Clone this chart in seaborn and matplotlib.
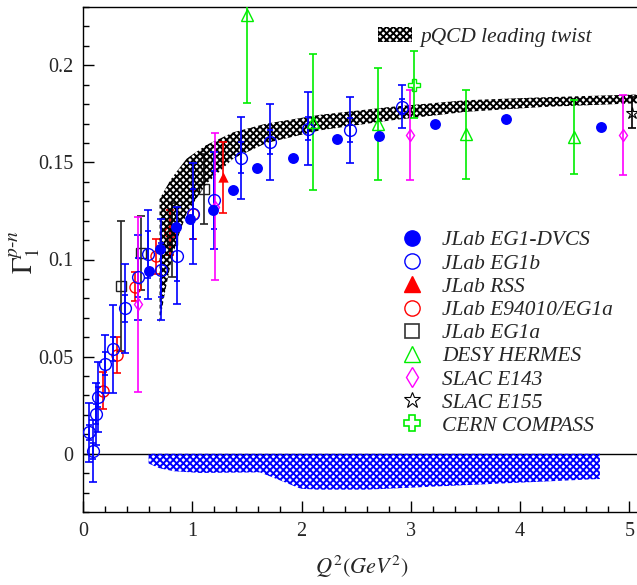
import matplotlib
matplotlib.use("Agg")
import matplotlib.pyplot as plt
import seaborn as sns
from matplotlib.lines import Line2D
from matplotlib.patches import Patch

# ------------------------------
# DATA
# ------------------------------
dvcs_q2 = [0.60, 0.70, 0.85, 0.98, 1.19, 1.37, 1.59, 1.92, 2.32, 2.71, 3.22, 3.87, 4.74]
dvcs_g = [0.094, 0.1055, 0.1165, 0.121, 0.1255, 0.1357, 0.147, 0.1523, 0.162, 0.1636, 0.1696, 0.1722, 0.1682]

# systematic band of EG1-DVCS (lower edge, upper edge sits on zero)
sys_q2 = [0.60, 0.70, 0.83, 1.07, 1.62, 1.86, 1.99, 2.14, 2.6, 3.8, 4.73]
sys_lo = [-0.005, -0.0075, -0.009, -0.0099, -0.0096, -0.015, -0.018, -0.0185, -0.0185, -0.0154, -0.013]

eg1b_q2 = [0.058, 0.089, 0.116, 0.140, 0.198, 0.274, 0.387, 0.50, 0.598, 0.71, 0.856, 1.003, 1.198, 1.446, 1.714, 2.058, 2.443, 2.92]
eg1b_g = [0.011, 0.0015, 0.0204, 0.0292, 0.0463, 0.0539, 0.0749, 0.0908, 0.1027, 0.0947, 0.1019, 0.1235, 0.1305, 0.1523, 0.1605, 0.1673, 0.1667, 0.1787]
eg1b_tot = [0.015, 0.016, 0.016, 0.018, 0.015, 0.0225, 0.023, 0.022, 0.023, 0.026, 0.025, 0.026, 0.025, 0.021, 0.0195, 0.0187, 0.017, 0.011]
eg1b_stat = [0.004, 0.004, 0.005, 0.005, 0.006, 0.006, 0.007, 0.010, 0.012, 0.014, 0.013, 0.013, 0.015, 0.008, 0.006, 0.006, 0.006, 0.004]

rss_q2 = [1.284]
rss_g = [0.1424]
rss_err = [0.0183]

e94_q2 = [0.18, 0.308, 0.479, 0.668, 0.796, 1.003]
e94_g = [0.0324, 0.0508, 0.086, 0.1017, 0.114, 0.1232]
e94_err = [0.0095, 0.0093, 0.0075, 0.009, 0.0115, 0.0125]

eg1a_q2 = [0.348, 0.533, 0.81, 1.107]
eg1a_g = [0.0864, 0.1032, 0.110, 0.1363]
eg1a_err = [0.0336, 0.019, 0.019, 0.018]

hermes_q2 = [1.50, 2.10, 2.70, 3.50, 4.495]
hermes_g = [0.2258, 0.1708, 0.1697, 0.1644, 0.1632]
hermes_err = [0.045, 0.035, 0.029, 0.023, 0.019]

e143_q2 = [0.50, 1.207, 2.995, 4.94]
e143_g = [0.077, 0.1272, 0.1641, 0.1641]
e143_err = [0.045, 0.038, 0.0234, 0.0207]

e155_q2 = [5.02]
e155_g = [0.1755]
e155_err = [0.008]

compass_q2 = [3.025]
compass_g = [0.190]
compass_err = [0.0173]

# pQCD leading twist band
pqcd_q2 = [0.70, 0.75, 0.80, 0.86, 0.95, 1.13, 1.375, 1.68, 2.17, 2.8, 3.5, 4.2, 5.1]
pqcd_lo = [0.067, 0.083, 0.097, 0.110, 0.124, 0.139, 0.152, 0.160, 0.1665, 0.1715, 0.176, 0.1785, 0.1805]
pqcd_hi = [0.131, 0.136, 0.141, 0.1455, 0.152, 0.159, 0.1655, 0.170, 0.1745, 0.1785, 0.182, 0.1835, 0.185]

BLUE = "#0000ff"
RED = "#ff0000"
GREEN = "#00ee00"
MAGENTA = "#ff00ff"
BLACK = "#000000"

# ------------------------------
# STYLE
# ------------------------------
sns.set_style("ticks")
plt.rcParams["font.family"] = ["Liberation Serif", "DejaVu Serif"]
plt.rcParams["mathtext.fontset"] = "stix"
plt.rcParams["hatch.linewidth"] = 1.4

fig = plt.figure(figsize=(6.37, 5.85), dpi=100)
ax = fig.add_axes([83 / 637, 1 - 512 / 585, (640.4 - 83) / 637, (512 - 7) / 585])


def bars(q2, g, err, color, z, cap=3, lw=1.2):
    ax.errorbar(q2, g, yerr=err, fmt="none", ecolor=color, elinewidth=lw,
                capsize=cap, capthick=lw, zorder=z)


# ------------------------------
# POINTS BEHIND THE BAND
# ------------------------------
bars(e94_q2, e94_g, e94_err, RED, 2)
ax.errorbar(e94_q2, e94_g, fmt="o", ms=8, mfc="none", mec=RED, mew=1.0, zorder=2)

bars(eg1a_q2, eg1a_g, eg1a_err, "#222222", 2)
ax.errorbar(eg1a_q2, eg1a_g, fmt="s", ms=7.5, mfc="none", mec="#222222", mew=1.0, zorder=2)

# ------------------------------
# BANDS
# ------------------------------
ax.fill_between(pqcd_q2, pqcd_lo, pqcd_hi, facecolor="none", edgecolor=BLACK,
                hatch="xxxxx", linewidth=0, zorder=3)
ax.fill_between(sys_q2, sys_lo, 0, facecolor="none", edgecolor=BLUE,
                hatch="xxxxx", linewidth=0, zorder=3)
ax.axhline(0, color=BLACK, lw=1.0, zorder=2)

# ------------------------------
# POINTS IN FRONT
# ------------------------------
bars(eg1b_q2, eg1b_g, eg1b_tot, BLUE, 4)
bars(eg1b_q2, eg1b_g, eg1b_stat, BLUE, 4, cap=2.5)
ax.errorbar(eg1b_q2, eg1b_g, fmt="o", ms=8.5, mfc="none", mec=BLUE, mew=1.0, zorder=5)

bars(hermes_q2, hermes_g, hermes_err, GREEN, 4)
ax.errorbar(hermes_q2, hermes_g, fmt="^", ms=8.5, mfc="none", mec=GREEN, mew=1.0, zorder=5)

bars(e143_q2, e143_g, e143_err, MAGENTA, 4)
ax.errorbar(e143_q2, e143_g, fmt="d", ms=6.5, mfc="none", mec=MAGENTA, mew=1.0, zorder=5)

bars(e155_q2, e155_g, e155_err, BLACK, 4)
ax.errorbar(e155_q2, e155_g, fmt="*", ms=9, mfc="none", mec=BLACK, mew=0.8, zorder=5)

bars(compass_q2, compass_g, compass_err, GREEN, 4)
ax.errorbar(compass_q2, compass_g, fmt="P", ms=8, mfc="none", mec=GREEN, mew=1.0, zorder=5)

bars(rss_q2, rss_g, rss_err, RED, 4)
sns.scatterplot(x=rss_q2, y=rss_g, ax=ax, marker="^", s=55, color=RED,
                edgecolor=RED, linewidth=0, zorder=6)

sns.scatterplot(x=dvcs_q2, y=dvcs_g, ax=ax, marker="o", s=62, color=BLUE,
                edgecolor=BLUE, linewidth=0, zorder=6)

# ------------------------------
# AXES
# ------------------------------
ax.set_xlim(0, 5.1)
ax.set_ylim(-0.03, 0.23)
ax.set_xticks([0, 1, 2, 3, 4, 5])
ax.set_xticks([i * 0.2 for i in range(26)], minor=True)
ax.set_yticks([0, 0.05, 0.1, 0.15, 0.2])
ax.set_yticklabels(["0", "0.05", "0.1", "0.15", "0.2"])
ax.set_yticks([i * 0.01 - 0.03 for i in range(27)], minor=True)
ax.tick_params(which="both", direction="in", top=False, right=False, labelsize=14.5, color=BLACK)
ax.tick_params(which="major", length=8, width=1.0)
ax.tick_params(which="minor", length=4, width=1.0)
ax.tick_params(axis="x", pad=7.5)
ax.tick_params(axis="y", pad=7)
for side in ["left", "bottom", "top"]:
    ax.spines[side].set_linewidth(1.0)
    ax.spines[side].set_color(BLACK)
ax.spines["right"].set_visible(False)

ax.set_xlabel(r"$Q^{2}(GeV^{2})$", fontsize=16, labelpad=9)
ax.set_ylabel(r"$\Gamma_{\mathit{1}}^{\mathit{p}\text{-}\mathit{n}}$", fontsize=20)
ax.yaxis.set_label_coords(-0.072, 0.515)

# ------------------------------
# LEGENDS
# ------------------------------
leg_font = {"family": "Liberation Serif", "style": "italic", "size": 15.4}

pq = ax.legend(handles=[Patch(facecolor="none", edgecolor=BLACK, hatch="xxxxx", linewidth=0,
                              label="pQCD leading twist")],
               loc="upper left", bbox_to_anchor=(378 / 637, 1 - 27 / 585),
               bbox_transform=fig.transFigure, frameon=False, prop=leg_font,
               handlelength=1.57, handleheight=0.7, handletextpad=0.39,
               borderpad=0, borderaxespad=0)
ax.add_artist(pq)

handles = [
    Line2D([], [], ls="none", marker="o", ms=11, mfc=BLUE, mec=BLUE, label="JLab EG1-DVCS"),
    Line2D([], [], ls="none", marker="o", ms=11, mfc="none", mec=BLUE, mew=1.0, label="JLab EG1b"),
    Line2D([], [], ls="none", marker="^", ms=11, mfc=RED, mec=RED, label="JLab RSS"),
    Line2D([], [], ls="none", marker="o", ms=11, mfc="none", mec=RED, mew=1.0, label="JLab E94010/EG1a"),
    Line2D([], [], ls="none", marker="s", ms=10.5, mfc="none", mec="#333333", mew=1.2, label="JLab EG1a"),
    Line2D([], [], ls="none", marker="^", ms=12, mfc="none", mec=GREEN, mew=1.0, label="DESY HERMES"),
    Line2D([], [], ls="none", marker="d", ms=10.5, mfc="none", mec=MAGENTA, mew=1.0, label="SLAC E143"),
    Line2D([], [], ls="none", marker="*", ms=12, mfc="none", mec=BLACK, mew=0.8, label="SLAC E155"),
    Line2D([], [], ls="none", marker="P", ms=11, mfc="none", mec=GREEN, mew=1.2, label="CERN COMPASS"),
]
ax.legend(handles=handles, loc="upper left", bbox_to_anchor=(397 / 637, 1 - 230.5 / 585),
          bbox_transform=fig.transFigure, frameon=False, prop=leg_font,
          handlelength=1.4, handletextpad=0.72, labelspacing=0.15,
          borderpad=0, borderaxespad=0)

plt.savefig("out.png", dpi=100)
